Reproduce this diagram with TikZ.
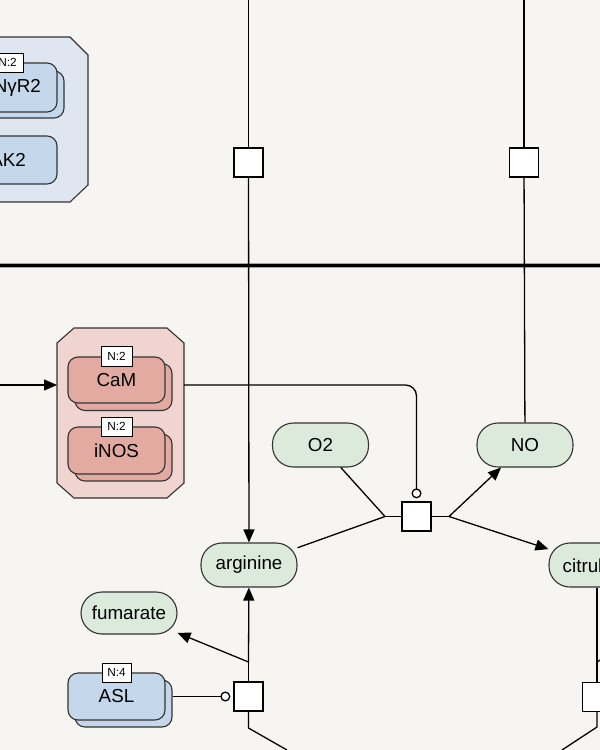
\documentclass[tikz,border=0pt]{standalone}
\usepackage{fontspec}
\setmainfont{Liberation Sans}
\usetikzlibrary{arrows.meta,calc}
\definecolor{bg}{HTML}{F6F5F1}
\definecolor{bluecomp}{HTML}{DFE6EF}
\definecolor{bluemm}{HTML}{C5D7EA}
\definecolor{pinkcomp}{HTML}{EFD4CF}
\definecolor{pinkmm}{HTML}{E3AAA2}
\definecolor{greensc}{HTML}{DCEADC}
\definecolor{edge}{HTML}{333333}
\begin{document}
\begin{tikzpicture}[x=1pt,y=-1pt,
  every node/.style={font=\fontsize{18.8}{22}\selectfont},
  comp/.style={draw=edge,line width=1.1pt},
  mm/.style={draw=edge,line width=1.1pt,rounded corners=10pt,minimum width=97pt,minimum height=47pt,inner sep=0pt},
  tagbox/.style={draw=black,fill=white,line width=0.9pt,minimum width=30pt,minimum height=19pt,inner sep=0pt,font=\fontsize{11.8}{13}\selectfont},
  sc/.style={draw=edge,line width=1.1pt,fill=greensc,rounded corners=21pt,minimum width=96pt,minimum height=44pt,inner sep=0pt},
  pn/.style={draw=black,fill=white,line width=1.3pt,minimum size=29pt,inner sep=0pt},
  conn/.style={draw=black,line width=1.3pt},
  arr/.style={conn,-{Triangle[length=13pt,width=11pt]}},
  modc/.style={conn,-{Circle[open,length=10pt,fill=white]}}
]
\fill[bg] (0,0) rectangle (600,750);
\useasboundingbox (0,0) rectangle (600,750);

% membrane
\draw[line width=5pt,black!35] (0,265) -- (600,265);
\draw[line width=3pt,black] (0,265) -- (600,265);

% top-left blue compartment
\draw[comp,fill=bluecomp] (-30,37) -- (70,37) -- (88,55) -- (88,185) -- (70,202) -- (-30,202) -- cycle;
\node[mm,fill=bluemm] (nyr2s) at (15.5,94.5) {};
\node[mm,fill=bluemm,minimum height=49pt] (nyr2) at (8.5,87.5) {};
\node[anchor=east,inner sep=0pt] (nyr2t) at (41,88) {NγR2};
\node[tagbox,minimum width=31pt] (nyr2tag) at (7.5,62.5) {N:2};
\node[mm,fill=bluemm,minimum height=48pt] (ak2) at (8.5,160) {};
\node[anchor=east,inner sep=0pt] (ak2t) at (26,160) {AK2};

% pink compartment
\draw[comp,fill=pinkcomp] (74,328) -- (167,328) -- (184,343) -- (184,483) -- (167,498) -- (74,498) -- (57,483) -- (57,343) -- cycle;
\coordinate (cytl) at (57,385);
\coordinate (cytr) at (184,385);
\node[mm,fill=pinkmm] (cams) at (123.5,387) {};
\node[mm,fill=pinkmm,minimum height=46pt] (cam) at (116.5,380) {CaM};
\node[tagbox,minimum width=31pt,minimum height=20pt] (camtag) at (116.5,356) {N:2};
\node[mm,fill=pinkmm] (inoss) at (123.5,457.5) {};
\node[mm,fill=pinkmm] (inos) at (116.5,450.5) {iNOS};
\node[tagbox,minimum width=31pt,minimum height=19pt] (inostag) at (116.5,426.5) {N:2};

% ASL
\node[mm,fill=bluemm] (asls) at (123.5,703.5) {};
\node[mm,fill=bluemm] (asl) at (116.5,696.5) {ASL};
\node[tagbox,minimum width=29pt] (asltag) at (116.5,672.5) {N:4};

% simple chemicals
\node[sc] (o2) at (320.5,445) {O2};
\node[sc] (no) at (525,445) {NO};
\node[sc] (arg) at (249,565) {arginine};
\node[sc] (cit) at (597,565) {};
\node[anchor=west,inner sep=0pt] (citt) at (562.5,566) {citrul};
\node[sc,minimum height=42pt] (fum) at (129,613) {fumarate};

% process nodes
\node[pn] (p1) at (248.5,162.5) {};
\node[pn] (p2) at (524,162.5) {};
\node[pn] (p3) at (416.5,516.5) {};
\node[pn] (p4) at (248.5,696.5) {};
\node[pn] (p5) at (597,697) {};

% transport reactions
\coordinate (t1) at (248.5,0);
\coordinate (t2) at (524,0);
\draw[conn] (t1) -- (p1);
\draw[arr] (p1) -- (arg);
\draw[conn] (t2) -- (p2);
\draw[conn] (p2) -- (no);

% input into compartment
\coordinate (lin) at (0,385);
\draw[arr] (lin) -- (cytl);

% NOS reaction
\coordinate (p3l) at (385,516.5);
\coordinate (p3r) at (449,516.5);
\coordinate (p3m) at ($(p3.north)+(0,-3)$);
\draw[modc,rounded corners=11pt] (cytr) -| (p3m);
\draw[conn] (p3.west) -- (p3l);
\draw[conn] (p3l) -- (o2);
\draw[conn] (p3l) -- (arg);
\draw[conn] (p3.east) -- (p3r);
\draw[arr] (p3r) -- (no);
\draw[arr] (p3r) -- (cit);

% ASL reaction
\coordinate (p4t) at (248.5,662);
\coordinate (p4b) at (248.5,728);
\coordinate (p4e) at (287,750);
\coordinate (p4m) at ($(p4.west)+(-3,0)$);
\draw[modc] (asl.east -| asls.east) -- (p4m);
\draw[conn] (p4.north) -- (p4t);
\draw[arr] (p4t) -- (arg);
\draw[arr] (p4t) -- (fum);
\draw[conn] (p4.south) -- (p4b) -- (p4e);

% right reaction
\coordinate (p5t) at (597,662);
\coordinate (p5x) at (612,653);
\coordinate (p5b) at (597,727);
\coordinate (p5e) at (562,750);
\draw[conn] (cit) -- (p5t) -- (p5.north);
\draw[conn] (p5t) -- (p5x);
\draw[conn] (p5.south) -- (p5b) -- (p5e);
\end{tikzpicture}
\end{document}
